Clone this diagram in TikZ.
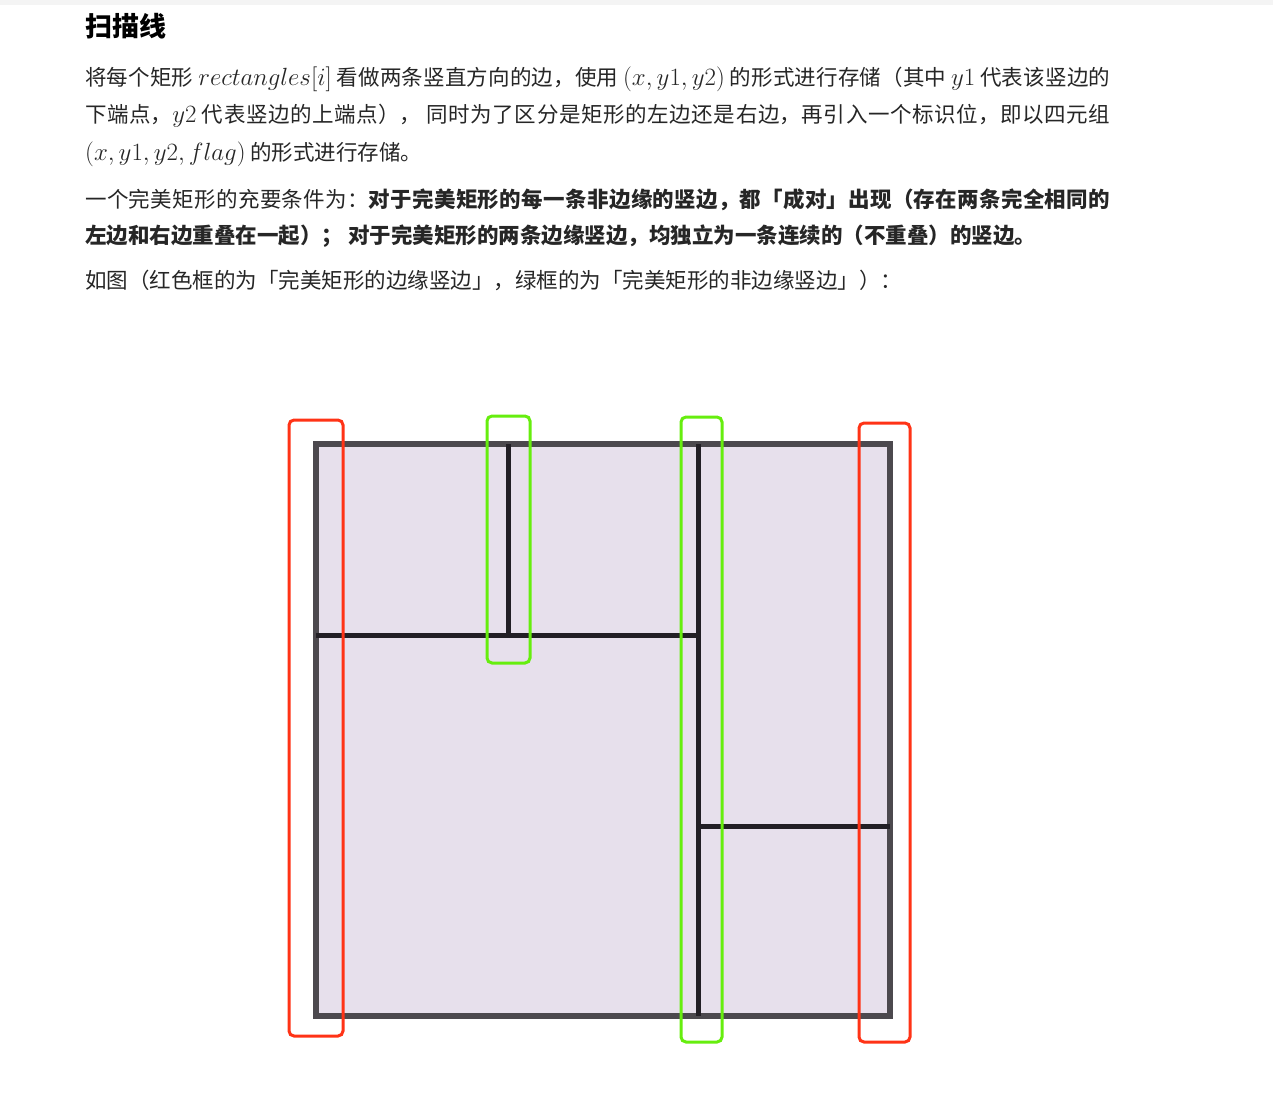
\documentclass[tikz,border=0pt]{standalone}
\usepackage{fontspec}
\newfontfamily\cjk{Noto Sans CJK SC}
\definecolor{topgray}{HTML}{F4F4F4}
\definecolor{txt}{HTML}{262626}
\definecolor{border}{HTML}{4C494E}
\definecolor{cellfill}{HTML}{E7E0EC}
\definecolor{inner}{HTML}{221F25}
\definecolor{redbox}{HTML}{FF3316}
\definecolor{greenbox}{HTML}{66EE0E}
\newcommand{\mth}[1]{{\fontsize{23.6}{26}\selectfont$#1$}}
\newcommand{\justline}[1]{\parbox[b]{1025pt}{\parfillskip=0pt\parindent=0pt\XeTeXlinebreaklocale "zh"\XeTeXlinebreakskip=0pt plus 3pt\relax #1}}
\tikzset{
  txtline/.style={anchor=base west, inner sep=0pt, text=txt, font=\cjk\fontsize{21.5}{26}\selectfont},
  titletxt/.style={anchor=base west, inner sep=0pt, text=black, font=\cjk\bfseries\fontsize{27}{32}\selectfont},
  outerrect/.style={draw=border, line width=6pt, fill=cellfill},
  innerline/.style={draw=inner, line width=5pt},
  redframe/.style={draw=redbox, line width=3pt, rounded corners=5pt},
  greenframe/.style={draw=greenbox, line width=3pt, rounded corners=5pt}
}
\begin{document}
\begin{tikzpicture}[x=1pt,y=-1pt]
\useasboundingbox (0,0) rectangle (1273,1096);
\fill[white] (0,0) rectangle (1273,1096);
\fill[topgray] (0,0) rectangle (1273,4.5);
\node[titletxt] (title) at (85,36) {扫描线};
\node[txtline] (p1a) at (85,85) {\justline{将每个矩形 \mth{rectangles[i]} 看做两条竖直方向的边，使用 \mth{(x,y1,y2)} 的形式进行存储（其中 \mth{y1} 代表该竖边的}};
\node[txtline] (p1b) at (85,122) {\justline{下端点，\mth{y2} 代表竖边的上端点）， 同时为了区分是矩形的左边还是右边，再引入一个标识位，即以四元组}};
\node[txtline] (p1c) at (85,160) {\mth{(x,y1,y2,flag)} 的形式进行存储。};
\node[txtline] (p2a) at (85,207) {\justline{一个完美矩形的充要条件为：\textbf{对于完美矩形的每一条非边缘的竖边，都「成对」出现（存在两条完全相同的}}};
\node[txtline] (p2b) at (85,243) {\textbf{左边和右边重叠在一起）； 对于完美矩形的两条边缘竖边，均独立为一条连续的（不重叠）的竖边。}};
\node[txtline] (p3) at (85,288) {如图（红色框的为「完美矩形的边缘竖边」，绿框的为「完美矩形的非边缘竖边」）：};
% diagram
\draw[outerrect] (316,444) rectangle (890,1016);
\draw[innerline] (316,635) -- (700,635);
\draw[innerline] (508,444) -- (508,635);
\draw[innerline] (698,444) -- (698,1016);
\draw[innerline] (698,826) -- (890,826);
\draw[redframe] (289,420) rectangle (343,1036);
\draw[redframe] (859,423) rectangle (910,1042);
\draw[greenframe] (487,416) rectangle (530,663);
\draw[greenframe] (681,417) rectangle (722,1042);
\end{tikzpicture}
\end{document}
